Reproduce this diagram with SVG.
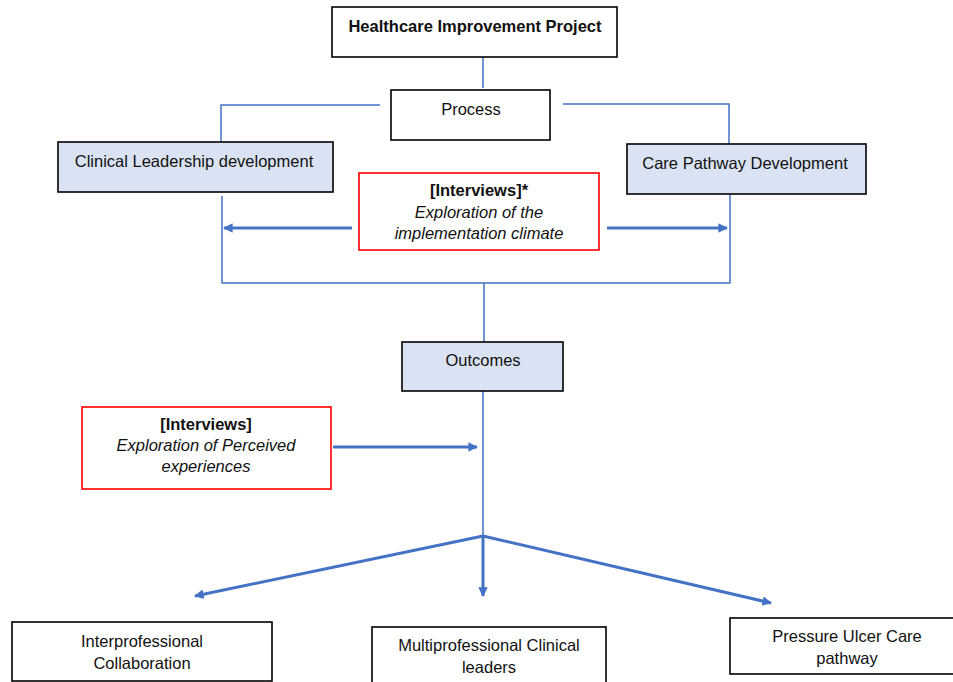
<svg xmlns="http://www.w3.org/2000/svg" width="953" height="682" viewBox="0 0 953 682">
<style>
.box{fill:#fff;stroke:#000;stroke-width:1.6}
.blue{fill:#dae3f3;stroke:#000;stroke-width:1.6}
.red{fill:#fff;stroke:#ff0000;stroke-width:1.6}
.t{font-family:"Liberation Sans",Arial,sans-serif;font-size:16.5px;fill:#111;text-anchor:middle}
.b{font-weight:bold}
.i{font-style:italic}
.ln{fill:none;stroke:#4472c4;stroke-width:1.5}
.ar{fill:none;stroke:#4472c4;stroke-width:3}
</style>
<defs>
<marker id="ah" viewBox="0 0 10 10" refX="9" refY="5" markerWidth="3.2" markerHeight="3.2" orient="auto" markerUnits="strokeWidth">
<path d="M0,0 L10,5 L0,10 z" fill="#4472c4"/>
</marker>
</defs>
<g id="connectors">
<line class="ln" x1="483" y1="57" x2="483" y2="88"/>
<polyline class="ln" points="380,105 221,105 221,141"/>
<polyline class="ln" points="563,104 729,104 729,144"/>
<polyline class="ln" points="222,196 222,283 730,283 730,195"/>
<line class="ln" x1="484" y1="283" x2="484" y2="342"/>
<line class="ar" x1="352" y1="228" x2="224" y2="228" marker-end="url(#ah)"/>
<line class="ar" x1="607" y1="228" x2="727" y2="228" marker-end="url(#ah)"/>
<line class="ln" x1="483" y1="391" x2="483" y2="536"/>
<line class="ar" x1="333" y1="447" x2="477" y2="447" marker-end="url(#ah)"/>
<line class="ar" x1="483" y1="536" x2="195" y2="596" marker-end="url(#ah)"/>
<line class="ar" x1="483" y1="536" x2="483" y2="596" marker-end="url(#ah)"/>
<line class="ar" x1="483" y1="536" x2="771" y2="603" marker-end="url(#ah)"/>
</g>
<g id="project">
<rect class="box" x="332" y="7" width="285" height="50"/>
<text class="t b" x="475" y="32">Healthcare Improvement Project</text>
</g>
<g id="process">
<rect class="box" x="391" y="90" width="159" height="50"/>
<text class="t" x="471" y="115">Process</text>
</g>
<g id="clinical">
<rect class="blue" x="58" y="142" width="275" height="50"/>
<text class="t" x="194" y="167">Clinical Leadership development</text>
</g>
<g id="care">
<rect class="blue" x="627" y="144" width="239" height="50"/>
<text class="t" x="745" y="169">Care Pathway Development</text>
</g>
<g id="interviews1">
<rect class="red" x="359" y="173" width="240" height="77"/>
<text class="t b" x="479" y="196">[Interviews]*</text>
<text class="t i" x="479" y="218">Exploration of the</text>
<text class="t i" x="479" y="239">implementation climate</text>
</g>
<g id="outcomes">
<rect class="blue" x="402" y="342" width="161" height="49"/>
<text class="t" x="483" y="366">Outcomes</text>
</g>
<g id="interviews2">
<rect class="red" x="82" y="407" width="249" height="82"/>
<text class="t b" x="206" y="430">[Interviews]</text>
<text class="t i" x="206" y="451">Exploration of Perceived</text>
<text class="t i" x="206" y="472">experiences</text>
</g>
<g id="interprofessional">
<rect class="box" x="12" y="622" width="260" height="59"/>
<text class="t" x="142" y="647">Interprofessional</text>
<text class="t" x="142" y="669">Collaboration</text>
</g>
<g id="multiprofessional">
<rect class="box" x="372" y="627" width="234" height="60"/>
<text class="t" x="489" y="651">Multiprofessional Clinical</text>
<text class="t" x="489" y="673">leaders</text>
</g>
<g id="pressure">
<rect class="box" x="730" y="618" width="230" height="56"/>
<text class="t" x="847" y="642">Pressure Ulcer Care</text>
<text class="t" x="847" y="664">pathway</text>
</g>
</svg>
